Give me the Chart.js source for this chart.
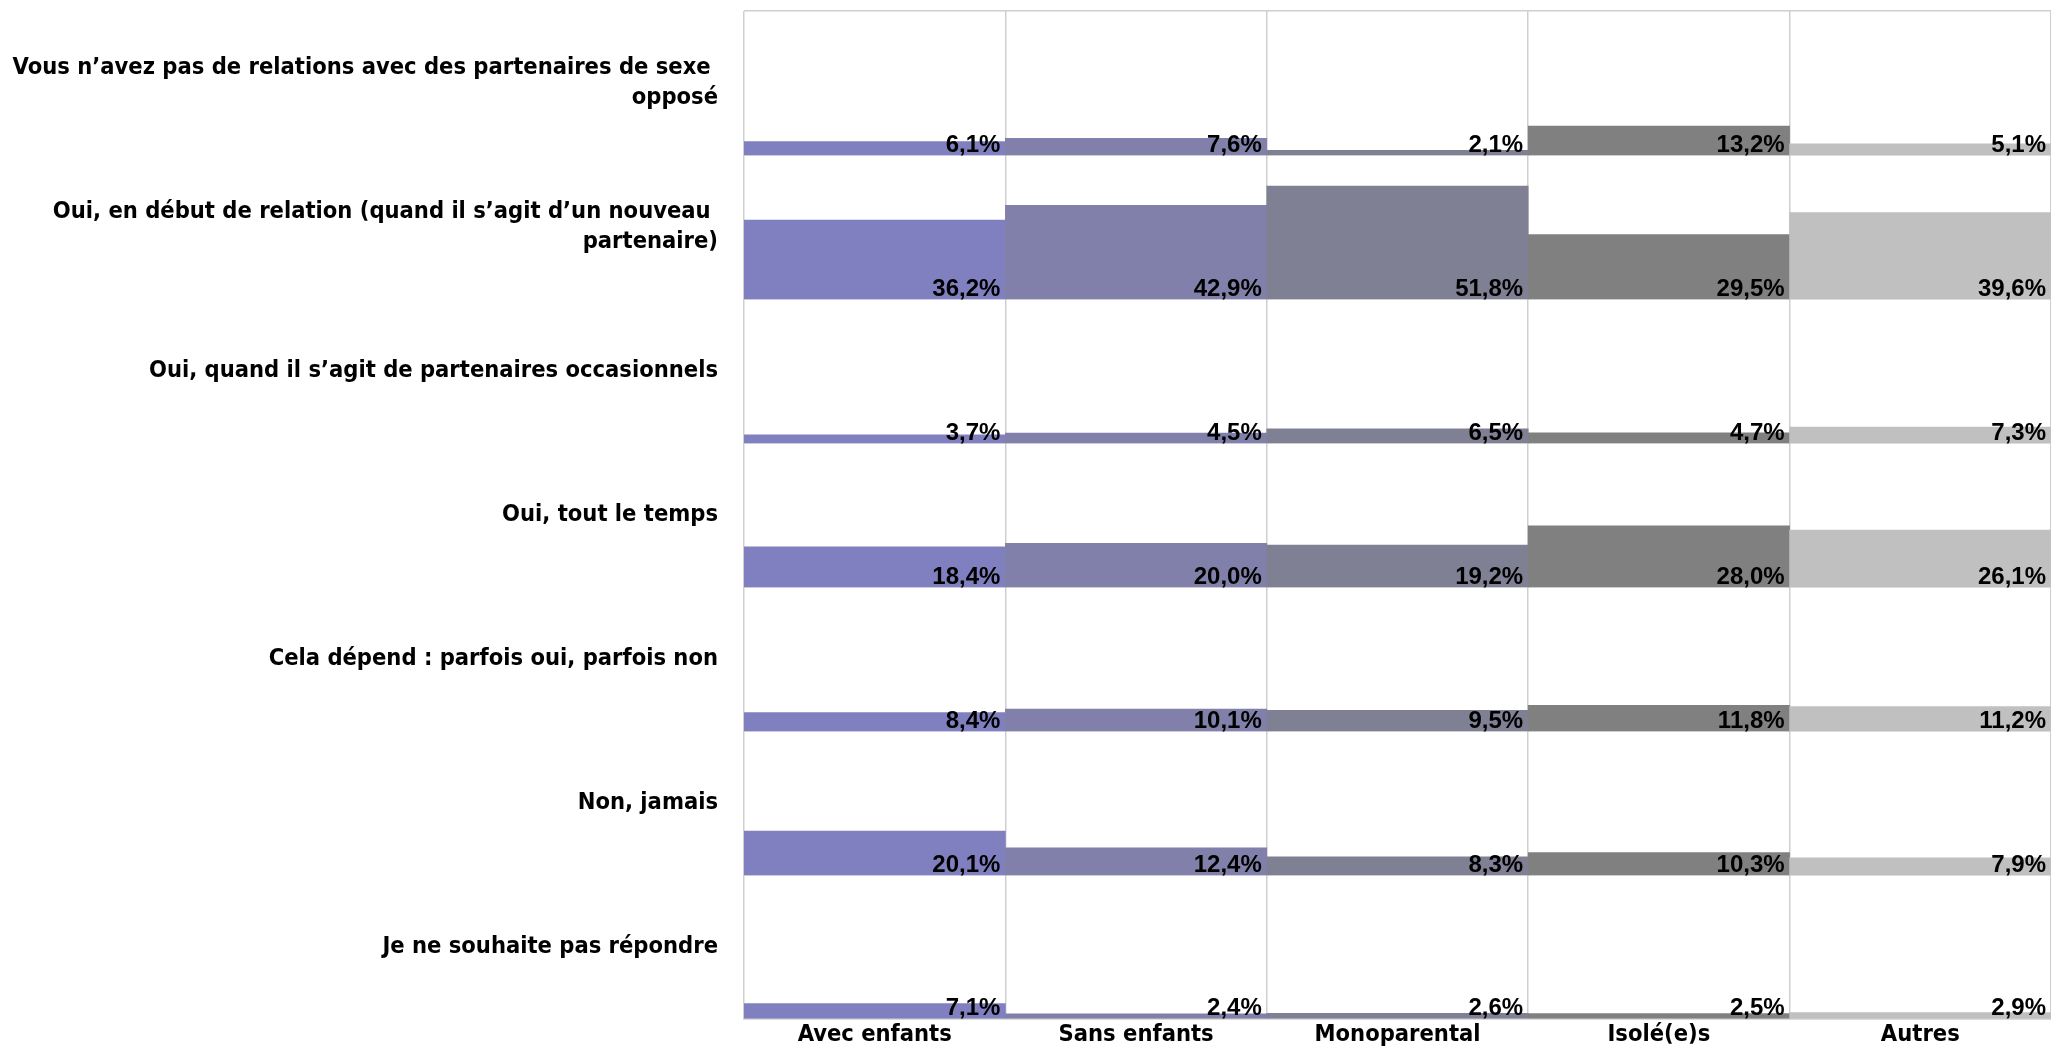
<!DOCTYPE html>
<html>
<head>
<meta charset="utf-8">
<script src="https://cdn.jsdelivr.net/npm/chart.js@4/dist/chart.umd.min.js"></script>
<style>
  html, body { margin: 0; padding: 0; background: #ffffff; }
  #wrap { position: relative; width: 2051px; height: 1052px; }
</style>
</head>
<body>
<div id="wrap"><canvas id="chart"></canvas></div>
<script>
// groupes (colonnes)
var groups = ['Avec enfants', 'Sans enfants', 'Monoparental', 'Isolé(e)s', 'Autres'];
// réponses (lignes), de haut en bas
var answers = [
  ['Vous n’avez pas de relations avec des partenaires de sexe ', 'opposé'],
  ['Oui, en début de relation (quand il s’agit d’un nouveau ', 'partenaire)'],
  'Oui, quand il s’agit de partenaires occasionnels',
  'Oui, tout le temps',
  'Cela dépend : parfois oui, parfois non',
  'Non, jamais',
  'Je ne souhaite pas répondre'
];
// valeurs en % par groupe, dans l'ordre des réponses
var avecEnfants  = [6.1, 36.2, 3.7, 18.4, 8.4, 20.1, 7.1];
var sansEnfants  = [7.6, 42.9, 4.5, 20.0, 10.1, 12.4, 2.4];
var monoparental = [2.1, 51.8, 6.5, 19.2, 9.5, 8.3, 2.6];
var isoles       = [13.2, 29.5, 4.7, 28.0, 11.8, 10.3, 2.5];
var autres       = [5.1, 39.6, 7.3, 26.1, 11.2, 7.9, 2.9];

var groupValues = [avecEnfants, sansEnfants, monoparental, isoles, autres];
var groupColors = ['#8080c0', '#8080aa', '#808094', '#808080', '#c0c0c0'];

var ROW_SPAN = 66; // étendue de chaque ligne en %
var nRows = answers.length;
var gridColor = '#cfcfcf';
var labelFont = "'DejaVu Sans Condensed', 'DejaVu Sans', sans-serif";

// une série par réponse, barres flottantes dans leur propre bande
var datasets = [];
for (var r = 0; r < nRows; r++) {
  var base = (nRows - 1 - r) * ROW_SPAN;
  var data = [];
  for (var g = 0; g < groups.length; g++) {
    data.push([base, base + groupValues[g][r]]);
  }
  datasets.push({
    label: Array.isArray(answers[r]) ? answers[r].join('') : answers[r],
    data: data,
    backgroundColor: groupColors,
    borderWidth: 0,
    grouped: false,
    barPercentage: 1,
    categoryPercentage: 1
  });
}

// étiquettes de valeur en bas à droite de chaque barre
var valueLabels = {
  id: 'valueLabels',
  afterDatasetsDraw: function(chart) {
    var ctx = chart.ctx;
    ctx.save();
    ctx.font = 'bold 24px "Liberation Sans", Arial, sans-serif';
    ctx.fillStyle = '#000000';
    ctx.textAlign = 'right';
    ctx.textBaseline = 'alphabetic';
    chart.data.datasets.forEach(function(ds, i) {
      var meta = chart.getDatasetMeta(i);
      meta.data.forEach(function(bar, j) {
        var v = ds.data[j][1] - ds.data[j][0];
        var txt = v.toFixed(1).replace('.', ',') + '%';
        ctx.fillText(txt, bar.x + bar.width / 2 - 5, bar.base - 3);
      });
    });
    ctx.restore();
  }
};

var rowPx = (1019 - 12) / nRows;

new Chart(document.getElementById('chart'), {
  type: 'bar',
  data: { labels: groups, datasets: datasets },
  plugins: [valueLabels],
  options: {
    responsive: true,
    maintainAspectRatio: false,
    animation: false,
    layout: { padding: { top: 11, right: 0, bottom: 0, left: 0 } },
    plugins: {
      legend: { display: false },
      tooltip: { enabled: false }
    },
    scales: {
      x: {
        offset: true,
        grid: { color: gridColor, lineWidth: 1.5, offset: true, drawTicks: false },
        border: { color: gridColor, width: 1.5 },
        ticks: {
          color: '#000000',
          padding: 2,
          font: { family: labelFont, size: 23.5, weight: 'bold' }
        },
        afterFit: function(scale) { scale.height = 33; }
      },
      y: {
        min: 0,
        max: nRows * ROW_SPAN,
        grid: { color: gridColor, lineWidth: 1.5, drawTicks: false },
        border: { display: false },
        afterBuildTicks: function(scale) {
          var t = [];
          for (var k = 0; k <= nRows; k++) t.push({ value: k * ROW_SPAN });
          scale.ticks = t;
        },
        afterFit: function(scale) {
          scale.width = 744;
          scale.paddingTop = 0;
          scale.paddingBottom = 0;
        },
        ticks: {
          autoSkip: false,
          padding: 26,
          labelOffset: -rowPx / 2,
          color: '#000000',
          font: { family: labelFont, size: 23.5, weight: 'bold', lineHeight: 1.3 },
          callback: function(value) {
            var r = nRows - 1 - Math.round(value / ROW_SPAN);
            if (r < 0 || r >= nRows) return '';
            return answers[r];
          }
        }
      }
    }
  }
});
</script>
</body>
</html>
